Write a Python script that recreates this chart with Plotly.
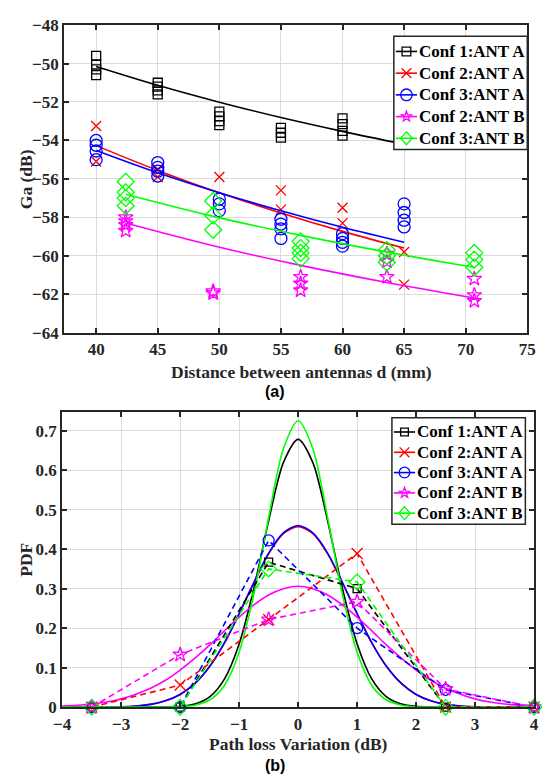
import math
import plotly.graph_objects as go

# ---------------- (a) gain vs antenna separation ----------------
DIST_A = [40, 45, 50, 55, 60, 65]          # mm, configuration A
DIST_B = [42.4, 49.5, 56.6, 63.6, 70.7]    # mm, configuration B (diagonal)

GA_C1A = [[-49.6, -50.05, -50.3, -50.6], [-51.0, -51.2, -51.4, -51.6],
          [-52.5, -52.75, -53.0, -53.2], [-53.35, -53.6, -53.85],
          [-52.85, -53.15, -53.5, -53.75], []]
GA_C2A = [[-53.25, -55.1], [-55.5, -55.9], [-55.9], [-56.6, -57.6],
          [-57.5, -58.3], [-59.8, -61.5]]
GA_C3A = [[-54.0, -54.25, -54.55, -55.0], [-55.15, -55.4, -55.6, -55.85],
          [-57.05, -57.3, -57.65], [-58.1, -58.35, -58.6, -59.1],
          [-58.85, -59.1, -59.3, -59.5], [-57.3, -57.75, -58.15, -58.5]]
GA_C2B = [[-58.0, -58.2, -58.4, -58.7], [-61.85, -61.95],
          [-61.1, -61.45, -61.8], [-59.9, -60.3, -61.1],
          [-61.2, -62.05, -62.35]]
GA_C3B = [[-56.15, -56.7, -57.0, -57.4], [-57.15, -57.9, -58.65],
          [-59.25, -59.6, -59.85, -60.15], [-59.7, -60.0, -60.35],
          [-59.85, -60.2, -60.6]]

# fitted path-gain curves evaluated at the measurement distances
FIT_C1A = [-50.15, -51.13, -52.01, -52.81, -53.53, -54.2]
FIT_C2A = [-54.27, -55.56, -56.72, -57.77, -58.73, -59.6]
FIT_C3A = [-54.52, -55.68, -56.72, -57.66, -58.52, -59.3]
FIT_C2B = [-58.3, -59.48, -60.5, -61.39, -62.2]
FIT_C3B = [-56.8, -57.95, -58.94, -59.81, -60.6]

GA_TICKS_X = [40, 45, 50, 55, 60, 65, 70, 75]
GA_TICKS_Y = [-64, -62, -60, -58, -56, -54, -52, -50, -48]

# ---------------- (b) path loss variation PDF ----------------
BIN_CENTERS = [-3.5, -2, -0.5, 1, 2.5, 4]
HIST_C1A = [0, 0, 0.367, 0.300, 0, 0]
HIST_C2A = [0, 0.056, 0.222, 0.389, 0, 0]
HIST_C3A = [0, 0, 0.422, 0.200, 0.044, 0]
HIST_C2B = [0, 0.133, 0.222, 0.267, 0.046, 0]
HIST_C3B = [0, 0, 0.350, 0.317, 0, 0]

PV_GRID = [-4, -3.75, -3.5, -3.25, -3, -2.75, -2.5, -2.25, -2, -1.75, -1.5,
           -1.25, -1, -0.75, -0.5, -0.25, 0, 0.25, 0.5, 0.75, 1, 1.25, 1.5,
           1.75, 2, 2.25, 2.5, 2.75, 3, 3.25, 3.5, 3.75, 4]
FIT_PDF_C1A = [0, 0, 0, 0, 0, 0, 0.0001, 0.0004, 0.002, 0.008, 0.026, 0.071,
               0.160, 0.301, 0.472, 0.619, 0.678, 0.619, 0.472, 0.301, 0.160,
               0.071, 0.026, 0.008, 0.002, 0.0004, 0.0001, 0, 0, 0, 0, 0, 0]
FIT_PDF_C2A = [0, 0, 0.0001, 0.0004, 0.001, 0.003, 0.007, 0.016, 0.032, 0.060,
               0.103, 0.162, 0.236, 0.315, 0.388, 0.439, 0.457, 0.439, 0.388,
               0.315, 0.236, 0.162, 0.103, 0.060, 0.032, 0.016, 0.007, 0.003,
               0.001, 0.0004, 0.0001, 0, 0]
FIT_PDF_C3A = [0, 0, 0.0001, 0.0004, 0.001, 0.003, 0.007, 0.016, 0.032, 0.060,
               0.103, 0.163, 0.237, 0.316, 0.390, 0.441, 0.460, 0.441, 0.390,
               0.316, 0.237, 0.163, 0.103, 0.060, 0.032, 0.016, 0.007, 0.003,
               0.001, 0.0004, 0.0001, 0, 0]
FIT_PDF_C2B = [0.003, 0.005, 0.008, 0.013, 0.021, 0.033, 0.048, 0.068, 0.094,
               0.124, 0.157, 0.193, 0.228, 0.259, 0.284, 0.300, 0.306, 0.300,
               0.284, 0.259, 0.228, 0.193, 0.157, 0.124, 0.094, 0.068, 0.048,
               0.033, 0.021, 0.013, 0.008, 0.005, 0.003]
FIT_PDF_C3B = [0, 0, 0, 0, 0, 0, 0, 0.0002, 0.001, 0.005, 0.018, 0.055, 0.139,
               0.286, 0.480, 0.654, 0.725, 0.654, 0.480, 0.286, 0.139, 0.055,
               0.018, 0.005, 0.001, 0.0002, 0, 0, 0, 0, 0, 0, 0]

PDF_TICKS_X = [-4, -3, -2, -1, 0, 1, 2, 3, 4]
PDF_TICKS_Y = [0, 0.1, 0.2, 0.3, 0.4, 0.5, 0.6, 0.7]

NAMES = ["Conf 1:ANT A", "Conf 2:ANT A", "Conf 3:ANT A", "Conf 2:ANT B", "Conf 3:ANT B"]

# ---------------- styling ----------------
COLORS = ["#000000", "#ff0000", "#0000ff", "#ff00ff", "#00ff00"]
SYMBOLS = ["square-open", "x-thin-open", "circle-open", "star-open", "diamond-open"]
GLYPHS = ["square", "x", "circle", "star", "diamond"]
SIZES_A = [9, 10, 12, 11, 13]
SIZES_B = [8, 11, 11, 11, 12]
SERIF = "Liberation Serif"
INK = "#262626"
GRID = "#dadada"
W, H = 545, 784

fig = go.Figure()

scatter_sets = [(DIST_A, GA_C1A, DIST_A, FIT_C1A),
                (DIST_A, GA_C2A, DIST_A, FIT_C2A),
                (DIST_A, GA_C3A, DIST_A, FIT_C3A),
                (DIST_B, GA_C2B, DIST_B, FIT_C2B),
                (DIST_B, GA_C3B, DIST_B, FIT_C3B)]

for i, (dist, meas, fit_x, fit_y) in enumerate(scatter_sets):
    xs = [d for d, vals in zip(dist, meas) for _ in vals]
    ys = [v for vals in meas for v in vals]
    fig.add_trace(go.Scatter(
        x=xs, y=ys, mode="markers", name=NAMES[i], showlegend=False,
        marker=dict(symbol=SYMBOLS[i], size=SIZES_A[i], color=COLORS[i],
                    line=dict(width=1.3, color=COLORS[i])),
        xaxis="x", yaxis="y"))
    fig.add_trace(go.Scatter(
        x=fit_x, y=fit_y, mode="lines", name=NAMES[i], showlegend=False,
        line=dict(color=COLORS[i], width=1.6, shape="spline"),
        xaxis="x", yaxis="y"))

fit_pdfs = [FIT_PDF_C1A, FIT_PDF_C2A, FIT_PDF_C3A, FIT_PDF_C2B, FIT_PDF_C3B]
hists = [HIST_C1A, HIST_C2A, HIST_C3A, HIST_C2B, HIST_C3B]

for i in range(5):
    fig.add_trace(go.Scatter(
        x=PV_GRID, y=fit_pdfs[i], mode="lines", name=NAMES[i], showlegend=False,
        line=dict(color=COLORS[i], width=1.6, shape="spline", smoothing=0.8),
        xaxis="x2", yaxis="y2"))
for i in range(5):
    fig.add_trace(go.Scatter(
        x=BIN_CENTERS, y=hists[i], mode="lines+markers", name=NAMES[i],
        showlegend=False,
        line=dict(color=COLORS[i], width=1.6, dash="6px,4px"),
        marker=dict(symbol=SYMBOLS[i], size=SIZES_B[i], color=COLORS[i],
                    line=dict(width=1.3, color=COLORS[i])),
        cliponaxis=False,
        xaxis="x2", yaxis="y2"))

tickfont = dict(family=SERIF, size=17, color=INK, weight="bold")
axis_common = dict(showline=True, mirror="ticks", linecolor=INK, linewidth=2,
                   ticks="inside", ticklen=5, tickwidth=1.5, tickcolor=INK,
                   showgrid=True, gridcolor=GRID, gridwidth=1.4,
                   zeroline=False, tickfont=tickfont)

fig.update_layout(
    width=W, height=H,
    margin=dict(l=0, r=0, t=0, b=0),
    paper_bgcolor="white", plot_bgcolor="white",
    showlegend=False,
    xaxis=dict(domain=[57 / W, 536 / W], range=[37.4, 75], anchor="y",
               tickvals=GA_TICKS_X, **axis_common),
    yaxis=dict(domain=[1 - 331.7 / H, 1 - 16.5 / H], range=[-64, -48],
               anchor="x", tickvals=GA_TICKS_Y, **axis_common),
    xaxis2=dict(domain=[55 / W, 543 / W], range=[-4, 4], anchor="y2",
                tickvals=PDF_TICKS_X, **axis_common),
    yaxis2=dict(domain=[1 - 715.5 / H, 1 - 412.7 / H], range=[0, 0.748],
                anchor="x2", tickvals=PDF_TICKS_Y,
                ticktext=[f"{v:g}" for v in PDF_TICKS_Y], **axis_common),
)


# ---------------- legend boxes (drawn as overlay shapes + text) ----------------
def fx(p):
    return p / W


def fy(p):
    return 1 - p / H


def glyph_path(kind, cx, cy, s):
    if kind == "square":
        h = s / 2
        pts = [(cx - h, cy - h), (cx + h, cy - h), (cx + h, cy + h), (cx - h, cy + h)]
        return "M " + " L ".join(f"{fx(x)},{fy(y)}" for x, y in pts) + " Z"
    if kind == "diamond":
        hw, hh = s / 2, s / 2 * 1.1
        pts = [(cx, cy - hh), (cx + hw, cy), (cx, cy + hh), (cx - hw, cy)]
        return "M " + " L ".join(f"{fx(x)},{fy(y)}" for x, y in pts) + " Z"
    if kind == "x":
        h = s / 2
        return (f"M {fx(cx - h)},{fy(cy - h)} L {fx(cx + h)},{fy(cy + h)} "
                f"M {fx(cx - h)},{fy(cy + h)} L {fx(cx + h)},{fy(cy - h)}")
    if kind == "star":
        R, r = s / 2, s / 2 * 0.42
        pts = []
        for k in range(10):
            rad = R if k % 2 == 0 else r
            ang = -math.pi / 2 + k * math.pi / 5
            pts.append((cx + rad * math.cos(ang), cy + rad * math.sin(ang)))
        return "M " + " L ".join(f"{fx(x)},{fy(y)}" for x, y in pts) + " Z"
    return ""


def draw_legend(box, row0, step, line_x, glyph_x, text_x, sizes):
    x0, y0, x1, y1 = box
    fig.add_shape(type="rect", xref="paper", yref="paper", layer="above",
                  x0=fx(x0), x1=fx(x1), y0=fy(y1), y1=fy(y0),
                  fillcolor="white", line=dict(color=INK, width=1.5))
    for i, name in enumerate(NAMES):
        cy = row0 + i * step
        fig.add_shape(type="line", xref="paper", yref="paper", layer="above",
                      x0=fx(line_x[0]), x1=fx(line_x[1]), y0=fy(cy), y1=fy(cy),
                      line=dict(color=COLORS[i], width=1.6))
        s = sizes[i]
        if GLYPHS[i] == "circle":
            fig.add_shape(type="circle", xref="paper", yref="paper", layer="above",
                          x0=fx(glyph_x - s / 2), x1=fx(glyph_x + s / 2),
                          y0=fy(cy + s / 2), y1=fy(cy - s / 2),
                          line=dict(color=COLORS[i], width=1.3))
        else:
            fig.add_shape(type="path", xref="paper", yref="paper", layer="above",
                          path=glyph_path(GLYPHS[i], glyph_x, cy, s),
                          line=dict(color=COLORS[i], width=1.3))
        fig.add_annotation(text=name, xref="paper", yref="paper", showarrow=False,
                           x=fx(text_x), y=fy(cy), xanchor="left", yanchor="middle",
                           font=dict(family=SERIF, size=17, color="#000000",
                                     weight="bold"))


draw_legend((398, 28, 536, 144), 43.5, 22.25, (400, 422), 411, 422,
            [9, 10, 12, 11, 12])
draw_legend((396, 419, 534, 528), 433.5, 20.8, (398, 420), 409, 420,
            [8, 10, 11, 11, 12])

# ---------------- axis titles and panel labels ----------------
title_font = dict(family=SERIF, size=17.5, color=INK, weight="bold")
label_font = dict(family="Liberation Sans", size=16, color="#000000", weight="bold")
annotations = [
    dict(text="Ga (dB)", x=17 / W, y=1 - 174 / H, textangle=-90, font=title_font),
    dict(text="Distance between antennas d (mm)", x=302 / W, y=1 - 372 / H, font=title_font),
    dict(text="(a)", x=275 / W, y=1 - 392 / H, font=label_font),
    dict(text="PDF", x=18 / W, y=1 - 564 / H, textangle=-90, font=title_font),
    dict(text="Path loss Variation (dB)", x=299 / W, y=1 - 753 / H, font=title_font),
    dict(text="(b)", x=275 / W, y=1 - 775 / H, font=label_font),
]
for a in annotations:
    fig.add_annotation(xref="paper", yref="paper", showarrow=False,
                       xanchor="center", yanchor="middle", **a)

fig.write_html("out.html")
